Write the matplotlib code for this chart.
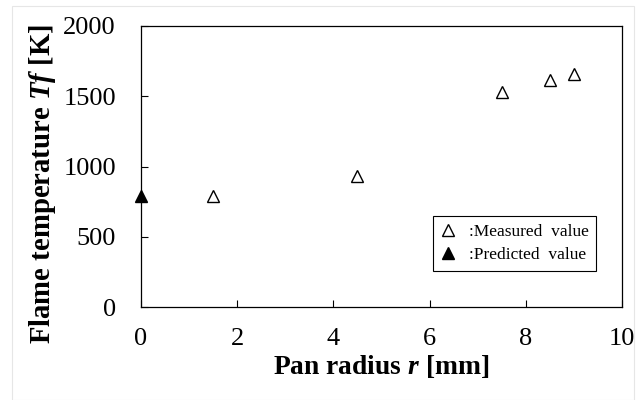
import matplotlib
matplotlib.use('Agg')
import matplotlib.pyplot as plt
from matplotlib.lines import Line2D
from matplotlib.patches import Rectangle

plt.rcParams['font.family'] = 'Liberation Serif'
plt.rcParams['mathtext.fontset'] = 'custom'
plt.rcParams['mathtext.rm'] = 'Liberation Serif:bold'
plt.rcParams['mathtext.it'] = 'Liberation Serif:bold:italic'
plt.rcParams['mathtext.bf'] = 'Liberation Serif:bold'

# measured flame temperatures vs pan radius
radius_meas = [1.5, 4.5, 7.5, 8.5, 9.0]
temp_meas = [790, 930, 1530, 1615, 1660]
# predicted value at r = 0
radius_pred = [0.0]
temp_pred = [790]

x_ticks = [0, 2, 4, 6, 8, 10]
y_ticks = [0, 500, 1000, 1500, 2000]

fig = plt.figure(figsize=(6.38, 4.0), dpi=100)
fig.patches.append(Rectangle((0.019, 0.0), 0.975, 0.985, transform=fig.transFigure,
                             fill=False, edgecolor='#e6e6e6', lw=0.8))
ax = fig.add_axes([0.221, 0.2325, 0.754, 0.7025])

ax.plot(radius_meas, temp_meas, '^', ms=9, mfc='white', mec='black', mew=1.0, clip_on=False)
ax.plot(radius_pred, temp_pred, '^', ms=9, mfc='black', mec='black', clip_on=False, zorder=5)

ax.set_xlim(0, 10)
ax.set_ylim(0, 2000)
ax.set_xticks(x_ticks)
ax.set_yticks(y_ticks)
ax.tick_params(direction='in', length=5, width=0.8, pad=18, labelsize=19)
ax.tick_params(axis='x', pad=15)
for s in ax.spines.values():
    s.set_linewidth(0.9)

# axis titles placed by hand
fig.text(381.5 / 638, 1 - 374 / 400, 'Pan radius $r$ [mm]', fontsize=19.8,
         fontweight='bold', ha='center', va='baseline')
fig.text(43 / 638, 1 - 184 / 400, 'Flame temperature $Tf$ [K]', fontsize=20.7,
         fontweight='bold', ha='center', va='center', rotation=90)

handles = [Line2D([], [], ls='none', marker='^', ms=9, mfc='white', mec='black'),
           Line2D([], [], ls='none', marker='^', ms=9, mfc='black', mec='black')]
leg = ax.legend(handles, [':Measured  value', ':Predicted  value'], loc='upper left',
                bbox_to_anchor=(0.607, 0.324), borderaxespad=0, fontsize=12.5,
                handlelength=0.8, handletextpad=0.8, fancybox=False, framealpha=1,
                edgecolor='black', borderpad=0.45, labelspacing=0.4)
leg.get_frame().set_linewidth(0.8)

fig.savefig('out.png', dpi=100)
